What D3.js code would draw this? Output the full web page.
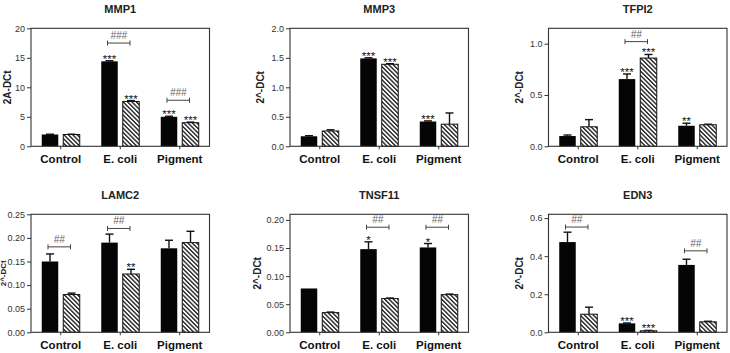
<!DOCTYPE html>
<html><head><meta charset="utf-8">
<script src="https://cdn.jsdelivr.net/npm/d3@7"></script>
<style>body{margin:0;background:#fff} svg{display:block;font-family:"Liberation Sans",Arial,sans-serif}</style>
</head><body><svg id="c" width="730" height="353"></svg>
<script>
const categories = ["Control", "E. coli", "Pigment"];
const series = ["black", "hatch"];
const titles = ["MMP1", "MMP3", "TFPI2", "LAMC2", "TNSF11", "EDN3"];
const yLabels = ["2A-DCt", "2^-DCt", "2^-DCt", "2^-DCt", "2^-DCt", "2^-DCt"];
const yMax = [20, 2.0, 1.15, 0.25, 0.21, 0.62];
const yTickValues = [[0,5,10,15,20],[0,0.5,1,1.5,2],[0,0.5,1],[0,0.05,0.1,0.15,0.2,0.25],[0,0.05,0.1,0.15,0.2],[0,0.2,0.4,0.6]];
const yTickFormats = ["d", ".1f", ".1f", ".2f", ".2f", ".1f"];
const blackValues = [[2.0,14.4,5.0],[0.17,1.49,0.42],[0.10,0.655,0.20],[0.15,0.19,0.178],[0.078,0.148,0.151],[0.474,0.047,0.354]];
const blackErrors = [[0.05,0.1,0.1],[0.01,0.01,0.01],[0.01,0.05,0.025],[0.016,0.018,0.017],[0,0.013,0.007],[0.052,0.002,0.03]];
const hatchValues = [[2.0,7.6,4.0],[0.26,1.39,0.375],[0.19,0.86,0.21],[0.08,0.1235,0.19],[0.035,0.060,0.067],[0.095,0.008,0.055]];
const hatchErrors = [[0.05,0.15,0.1],[0.02,0.01,0.19],[0.07,0.035,0.005],[0.003,0.01,0.024],[0.001,0.001,0.001],[0.037,0.002,0.003]];
// [panel, category, series, label]
const starMarks = [[0,1,"black","***"],[0,1,"hatch","***"],[0,2,"black","***"],[0,2,"hatch","***"],
  [1,1,"black","***"],[1,1,"hatch","***"],[1,2,"black","***"],
  [2,1,"black","***"],[2,1,"hatch","***"],[2,2,"black","**"],
  [3,1,"hatch","**"],[4,1,"black","*"],[4,2,"black","*"],
  [5,1,"black","***"],[5,1,"hatch","***"]];
// [panel, category, level, label]
const bracketMarks = [[0,1,17.5,"###"],[0,2,7.8,"###"],[2,1,1.02,"##"],[3,0,0.181,"##"],[3,1,0.22,"##"],
  [4,1,0.187,"##"],[4,2,0.187,"##"],[5,0,0.553,"##"],[5,2,0.428,"##"]];

// layout
const panelLeft = [31, 290, 548.5, 31, 290, 548.5];
const panelTop = [28.3, 28.3, 28.3, 214.3, 214.3, 214.3];
const plotW = 178.5, plotH = 118;
const yLabelX = [7, 260, 519, 3.4, 257, 519.5];

const svg = d3.select("#c");
const defs = svg.append("defs");
const pat = defs.append("pattern").attr("id","hatch").attr("patternUnits","userSpaceOnUse")
  .attr("width",3.1).attr("height",10).attr("patternTransform","rotate(-45)");
pat.append("rect").attr("width",3.1).attr("height",10).attr("fill","#fff");
pat.append("line").attr("x1",0.7).attr("x2",0.7).attr("y1",0).attr("y2",10).attr("stroke","#111").attr("stroke-width",1.3);

titles.forEach((title, p) => {
  const g = svg.append("g").attr("transform", `translate(${panelLeft[p]},${panelTop[p]})`);
  const x = d3.scaleBand().domain(categories).range([0, plotW]);
  const xs = d3.scaleBand().domain(series).range([0, x.bandwidth()]).paddingInner(0.233).paddingOuter(0.5);
  const y = d3.scaleLinear().domain([0, yMax[p]]).range([plotH, 0]);
  const vals = {black: blackValues[p], hatch: hatchValues[p]};
  const errs = {black: blackErrors[p], hatch: hatchErrors[p]};
  const bx = (ci, s) => x(categories[ci]) + xs(s);
  const bc = (ci, s) => bx(ci, s) + xs.bandwidth() / 2;

  series.forEach(s => {
    categories.forEach((c, ci) => {
      const v = vals[s][ci], e = errs[s][ci];
      if (e > 0) {
        g.append("line").attr("x1", bc(ci,s)).attr("x2", bc(ci,s)).attr("y1", y(v)).attr("y2", y(v+e))
          .attr("stroke","#111").attr("stroke-width",1.4);
        g.append("line").attr("x1", bc(ci,s)-4).attr("x2", bc(ci,s)+4).attr("y1", y(v+e)).attr("y2", y(v+e))
          .attr("stroke","#111").attr("stroke-width",1.4);
      }
      g.append("rect").attr("x", bx(ci,s)).attr("y", y(v)).attr("width", xs.bandwidth()).attr("height", plotH - y(v))
        .attr("fill", s === "black" ? "#050505" : "url(#hatch)")
        .attr("stroke", "#111").attr("stroke-width", s === "black" ? 0 : 1);
    });
  });

  g.append("rect").attr("width", plotW).attr("height", plotH).attr("fill","none").attr("stroke","#333").attr("stroke-width",1.1);

  const fmt = d3.format(yTickFormats[p]);
  const yAxis = d3.axisLeft(y).tickValues(yTickValues[p]).tickFormat(fmt).tickSize(4).tickPadding(2);
  const ya = g.append("g").call(yAxis);
  ya.select(".domain").remove();
  ya.selectAll("line").attr("stroke","#333");
  ya.selectAll("text").attr("font-size", 9).attr("fill","#333").attr("font-family","Liberation Sans, Arial, sans-serif");

  const xAxis = d3.axisBottom(x).tickSize(3).tickPadding(6);
  const xa = g.append("g").attr("transform", `translate(0,${plotH})`).call(xAxis);
  xa.select(".domain").remove();
  xa.selectAll("line").attr("stroke","#333");
  xa.selectAll("text").attr("font-size", 11.5).attr("font-weight","bold").attr("fill","#111")
    .attr("font-family","Liberation Sans, Arial, sans-serif");

  g.append("text").attr("x", plotW/2).attr("y", -15).attr("text-anchor","middle")
    .attr("font-size", 11).attr("font-weight","bold").attr("fill","#222").text(title);

  svg.append("text").attr("transform", `translate(${yLabelX[p]},${panelTop[p] + plotH/2}) rotate(-90)`)
    .attr("text-anchor","middle").attr("dominant-baseline","central")
    .attr("font-size", p === 3 ? 8 : 10).attr("font-weight","bold").attr("fill","#222").text(yLabels[p]);

  starMarks.filter(m => m[0] === p).forEach(m => {
    const [, ci, s, lab] = m;
    const top = vals[s][ci] + errs[s][ci];
    g.append("text").attr("x", bc(ci,s)).attr("y", y(top) + 2).attr("text-anchor","middle")
      .attr("font-size", 11.5).attr("fill","#111").text(lab);
  });

  bracketMarks.filter(m => m[0] === p).forEach(m => {
    const [, ci, level, lab] = m;
    const x1 = bc(ci,"black") - 2, x2 = bc(ci,"hatch") - 1, yy = y(level);
    g.append("line").attr("x1", x1).attr("x2", x2).attr("y1", yy).attr("y2", yy).attr("stroke","#444").attr("stroke-width",1);
    [x1, x2].forEach(xx => g.append("line").attr("x1", xx).attr("x2", xx).attr("y1", yy-2.5).attr("y2", yy+2.5).attr("stroke","#444").attr("stroke-width",1));
    g.append("text").attr("x", (x1+x2)/2).attr("y", yy - 4).attr("text-anchor","middle")
      .attr("font-size", 10).attr("font-style","italic").attr("fill","#666").text(lab);
  });
});
</script></body></html>
